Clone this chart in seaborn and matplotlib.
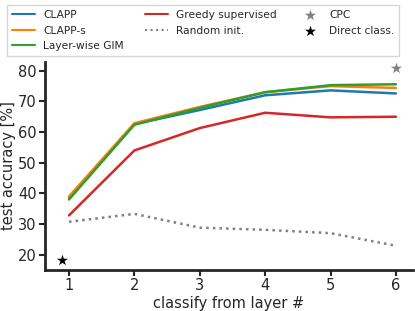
import numpy as np
import pandas as pd
import matplotlib
matplotlib.use("Agg")
import matplotlib.pyplot as plt
import seaborn as sns

layers = [1, 2, 3, 4, 5, 6]
clapp = [38.5, 62.6, 67.2, 72.0, 73.6, 72.6]
clapp_s = [39.0, 62.9, 68.2, 73.0, 75.0, 74.4]
gim = [38.0, 62.4, 67.9, 73.0, 75.3, 75.6]
greedy = [32.8, 54.0, 61.3, 66.3, 64.8, 65.0]
random_init = [30.7, 33.3, 28.8, 28.1, 27.0, 22.9]
cpc_x, cpc_y = [6], [81.0]
direct_x, direct_y = [0.9], [18.2]

sns.set_style("ticks")
plt.rcParams['font.family'] = ['DejaVu Sans']

fig = plt.figure(figsize=(4.15, 3.11), dpi=100)
ax = fig.add_axes([0.108, 0.132, 0.887, 0.67])

series = [
    ("CLAPP", clapp, "#1f77b4", "-"),
    ("CLAPP-s", clapp_s, "#ff7f0e", "-"),
    ("Layer-wise GIM", gim, "#2ca02c", "-"),
    ("Greedy supervised", greedy, "#d62728", "-"),
    ("Random init.", random_init, "gray", ":"),
]
for name, vals, col, ls in series:
    sns.lineplot(x=layers, y=vals, ax=ax, color=col, linestyle=ls, lw=1.8, label=name)

sns.scatterplot(x=cpc_x, y=cpc_y, ax=ax, marker="*", s=70, color="gray", linewidth=0, label="CPC")
sns.scatterplot(x=direct_x, y=direct_y, ax=ax, marker="*", s=70, color="black", linewidth=0, label="Direct class.")

ax.set_xlim(0.63, 6.26)
ax.set_ylim(15, 83)
ax.set_xticks(layers)
ax.set_yticks([20, 30, 40, 50, 60, 70, 80])
ax.tick_params(labelsize=10.5, width=1.5, length=4, pad=2)
for s in ["left", "bottom"]:
    ax.spines[s].set_linewidth(2)
sns.despine(ax=ax)
ax.set_xlabel("classify from layer #", fontsize=10.5, labelpad=2)
ax.set_ylabel("test accuracy [%]", fontsize=10.5, labelpad=1)

handles, labels = ax.get_legend_handles_labels()
ax.get_legend().remove()
leg = fig.legend(handles, labels, loc="upper center", bbox_to_anchor=(0.49, 1.0), ncol=3,
                 fontsize=7.7, frameon=True, edgecolor="#cccccc", fancybox=False,
                 handlelength=2.1, columnspacing=2.0, borderpad=0.45, labelspacing=0.5)
for h in leg.legend_handles[:5]:
    h.set_linewidth(1.5)

fig.savefig("out.png", dpi=100)
